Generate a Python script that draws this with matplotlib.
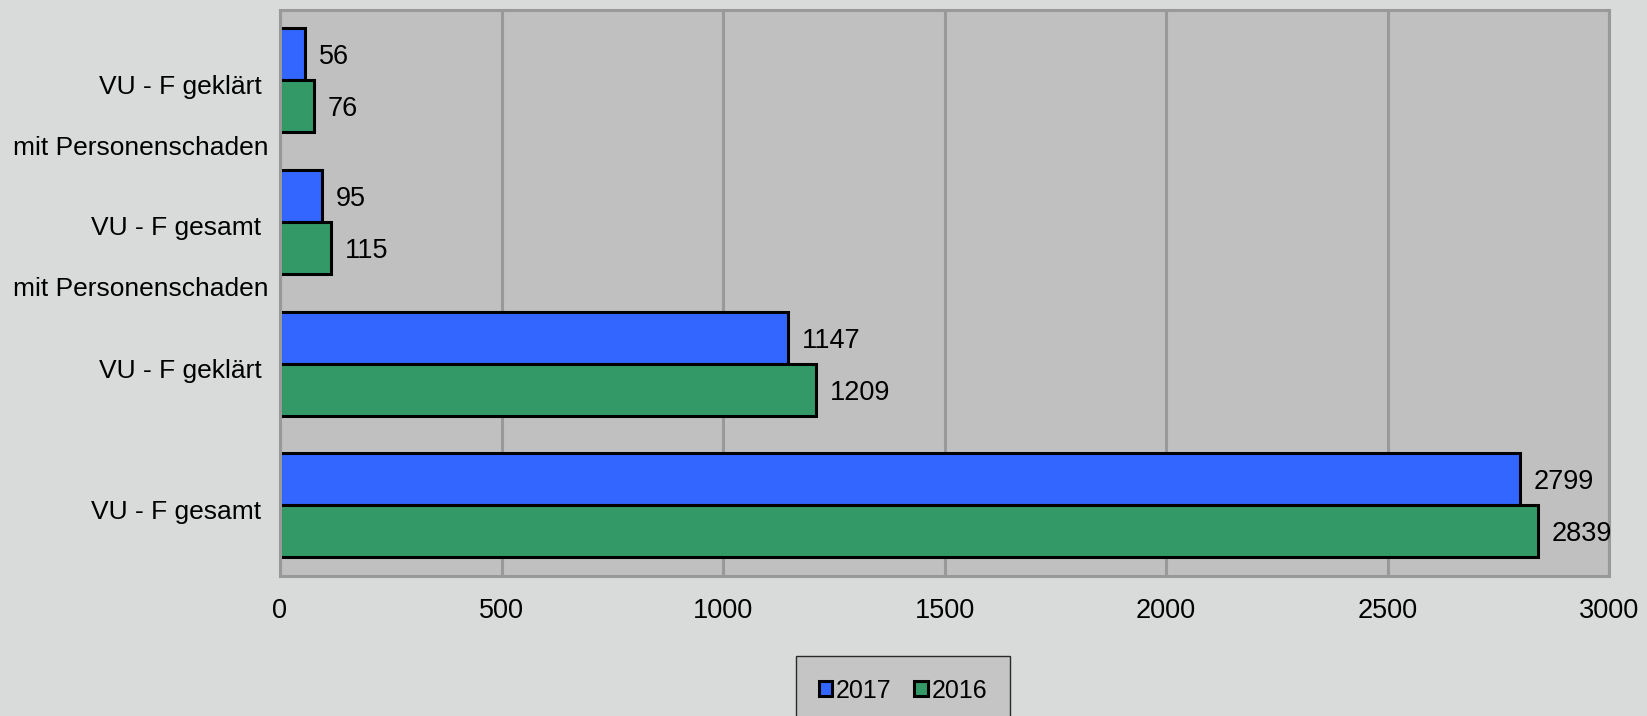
import numpy as np
import matplotlib
matplotlib.use("Agg")
import matplotlib.pyplot as plt
from matplotlib.transforms import ScaledTranslation

plt.rcParams['font.family'] = ['Liberation Sans', 'DejaVu Sans']

# Daten (von unten nach oben)
kategorien = ["VU - F gesamt ", "VU - F geklärt ",
              "VU - F gesamt \nmit Personenschaden",
              "VU - F geklärt \nmit Personenschaden"]
werte_2017 = [2799, 1147, 95, 56]
werte_2016 = [2839, 1209, 115, 76]
jahre = ["2017", "2016"]
farben = ["#3366ff", "#339966"]
xticks = [0, 500, 1000, 1500, 2000, 2500, 3000]

fs = 19.5

fig = plt.figure(figsize=(16.47, 7.16), dpi=100)
fig.patch.set_facecolor("#d9dbda")
ax = fig.add_axes([0.170, 0.1955, 0.807, 0.791])
ax.set_facecolor("#c0c0c0")

y = np.arange(len(kategorien))
h = 0.367
b1 = ax.barh(y + h / 2, werte_2017, height=h, color=farben[0],
             edgecolor="black", linewidth=2.2, label=jahre[0])
b2 = ax.barh(y - h / 2, werte_2016, height=h, color=farben[1],
             edgecolor="black", linewidth=2.2, label=jahre[1])
for t in ax.bar_label(b1, padding=10, fontsize=fs) + ax.bar_label(b2, padding=10, fontsize=fs):
    t.set_va("center_baseline")

ax.set_xlim(0, 3000)
ax.set_ylim(-0.5, len(kategorien) - 0.5)
ax.set_xticks(xticks)
ax.set_yticks(y)
ax.tick_params(axis="both", length=0, labelsize=fs)
ax.tick_params(axis="x", pad=16)
ax.tick_params(axis="y", pad=8)
ax.set_yticklabels(kategorien, fontsize=19, linespacing=2.95,
                   va="center", ha="right", multialignment="right")

# erste Zeile jeder Beschriftung auf Höhe der Kategorie
for lab in ax.get_yticklabels():
    n = lab.get_text().count("\n")
    dy = -(n * 21.5 + 5) / 72
    lab.set_transform(lab.get_transform() + ScaledTranslation(0, dy, fig.dpi_scale_trans))

ax.set_axisbelow(True)
ax.grid(axis="x", color="#999999", linewidth=2.2)
for s in ax.spines.values():
    s.set_color("#999999")
    s.set_linewidth(2.2)

leg = fig.legend(handles=[b1, b2], labels=jahre, loc="upper center",
                 bbox_to_anchor=(903 / 1647, 1 - 656 / 716), ncol=2,
                 fontsize=18, frameon=True, fancybox=False,
                 handlelength=0.55, handleheight=0.55, handletextpad=0.15,
                 columnspacing=0.9, borderpad=0.9, borderaxespad=0)
leg.get_frame().set_facecolor("#c0c0c0")
leg.get_frame().set_edgecolor("black")
leg.get_frame().set_linewidth(1.0)

fig.savefig("out.png", dpi=100, facecolor=fig.get_facecolor())
